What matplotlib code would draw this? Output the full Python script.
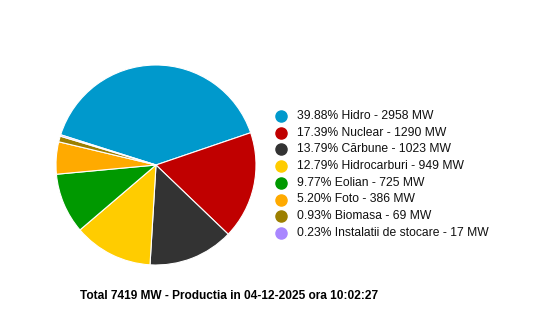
import matplotlib
matplotlib.use("Agg")
import matplotlib.pyplot as plt
from matplotlib.lines import Line2D

names = ["Hidro", "Nuclear", "Cărbune", "Hidrocarburi", "Eolian", "Foto", "Biomasa", "Instalatii de stocare"]
values = [2958, 1290, 1023, 949, 725, 386, 69, 17]
percents = ["39.88%", "17.39%", "13.79%", "12.79%", "9.77%", "5.20%", "0.93%", "0.23%"]
colors = ["#0099CC", "#C00000", "#333333", "#FFCC00", "#009900", "#FFAA00", "#9C7F00", "#A987FF"]
total = 7419
title = "Total 7419 MW - Productia in 04-12-2025 ora 10:02:27"

W, H = 550, 324
fig = plt.figure(figsize=(W / 100, H / 100), dpi=100)
plt.rcParams['font.family'] = ['Liberation Sans', 'DejaVu Sans']

cx, cy, r = 156, 165, 100
ax = fig.add_axes([(cx - r) / W, (H - cy - r) / H, 2 * r / W, 2 * r / H])
ax.pie(values, colors=colors, startangle=162.4, counterclock=False,
       wedgeprops=dict(edgecolor="white", linewidth=0.8))
ax.set_xlim(-1, 1)
ax.set_ylim(-1, 1)
ax.set_aspect("auto")
ax.axis("off")

for i, (p, n, v, c) in enumerate(zip(percents, names, values, colors)):
    y = 116 + i * 16.7
    fig.add_artist(Line2D([281 / W], [1 - y / H], marker="o", markersize=8,
                          markerfacecolor=c, markeredgecolor=c, linestyle="none",
                          transform=fig.transFigure))
    fig.text(297 / W, 1 - y / H, f"{p} {n} - {v} MW", fontsize=8.7,
             va="center", ha="left", color="#111111")

fig.text(80 / W, 1 - 296 / H, title, fontsize=8.6, fontweight="bold",
         va="center", ha="left", color="black")

fig.savefig("out.png", dpi=100)
